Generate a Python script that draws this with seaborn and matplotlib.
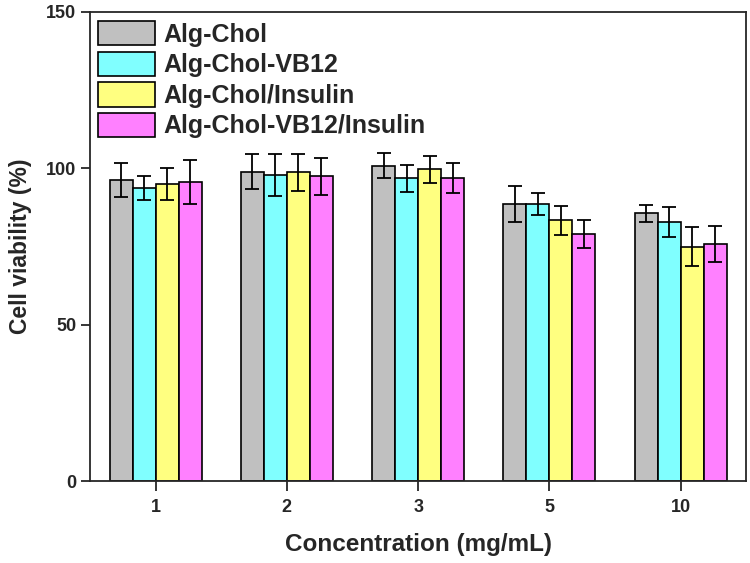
import numpy as np
import pandas as pd
import matplotlib
matplotlib.use("Agg")
import matplotlib.pyplot as plt
import seaborn as sns

concentrations = ["1", "2", "3", "5", "10"]
groups = ["Alg-Chol", "Alg-Chol-VB12", "Alg-Chol/Insulin", "Alg-Chol-VB12/Insulin"]
colors = ["#C0C0C0", "#80FFFF", "#FFFF80", "#FF80FF"]

alg_chol = [96.3, 98.9, 100.8, 88.7, 85.6]
alg_chol_vb12 = [93.6, 97.9, 96.8, 88.7, 82.8]
alg_chol_ins = [95.0, 98.7, 99.7, 83.4, 74.9]
alg_chol_vb12_ins = [95.7, 97.4, 96.8, 79.0, 75.9]

err_alg_chol = [5.5, 5.6, 4.0, 5.8, 2.8]
err_alg_chol_vb12 = [3.8, 6.7, 4.3, 3.5, 4.7]
err_alg_chol_ins = [5.0, 5.8, 4.3, 4.7, 6.2]
err_alg_chol_vb12_ins = [7.0, 5.9, 4.8, 4.5, 5.7]

means = [alg_chol, alg_chol_vb12, alg_chol_ins, alg_chol_vb12_ins]
errs = [err_alg_chol, err_alg_chol_vb12, err_alg_chol_ins, err_alg_chol_vb12_ins]

rows = []
for g, m, e in zip(groups, means, errs):
    for c, v, s in zip(concentrations, m, e):
        rows.append({"conc": c, "group": g, "viability": v, "sd": s})
df = pd.DataFrame(rows)

sns.set_style("ticks")
plt.rcParams["font.family"] = ["Liberation Sans", "DejaVu Sans"]
plt.rcParams["font.weight"] = "bold"

fig = plt.figure(figsize=(7.5, 5.63), dpi=100)
ax = fig.add_axes([0.12, 0.1456, 0.875, 0.8331])

sns.barplot(data=df, x="conc", y="viability", hue="group", order=concentrations,
            hue_order=groups, palette=colors, saturation=1, width=0.7, errorbar=None,
            edgecolor="black", linewidth=1.2, ax=ax, zorder=2)

# error bars from the bar positions
for i, g in enumerate(groups):
    cont = ax.containers[i]
    xs = [p.get_x() + p.get_width() / 2 for p in cont.patches]
    sub = df[df["group"] == g].set_index("conc").loc[concentrations]
    ax.errorbar(xs, sub["viability"], yerr=sub["sd"], fmt="none", ecolor="black",
                elinewidth=1.3, capsize=5, capthick=1.3, zorder=3)

ax.set_ylim(0, 150)
ax.set_xlim(-0.5, 4.5)
ax.set_yticks([0, 50, 100, 150])
ax.set_xlabel("Concentration (mg/mL)", fontsize=17.5, fontweight="bold", labelpad=12)
ax.set_ylabel("Cell viability (%)", fontsize=16.5, fontweight="bold", labelpad=10)
ax.tick_params(axis="both", labelsize=13, width=1.3, direction="out")
ax.tick_params(axis="y", length=6.5)
ax.tick_params(axis="x", length=7, pad=6)
for lab in ax.get_xticklabels() + ax.get_yticklabels():
    lab.set_fontweight("bold")
for sp in ax.spines.values():
    sp.set_linewidth(1.3)
    sp.set_visible(True)

ax.legend(loc="upper left", bbox_to_anchor=(0.0, 0.997), frameon=False,
          prop={"size": 18, "weight": "bold"}, handlelength=2.3, handleheight=1.12,
          handletextpad=0.35, labelspacing=0.2, borderaxespad=0.1, borderpad=0.2)

fig.savefig("out.png", dpi=100)
